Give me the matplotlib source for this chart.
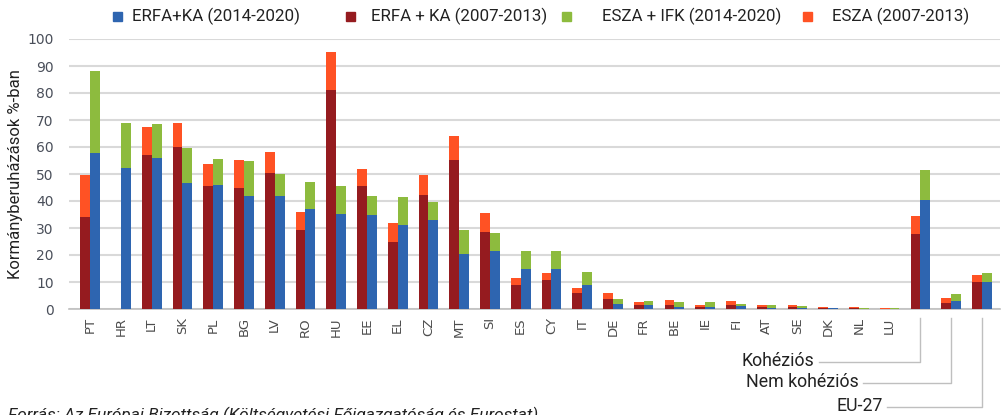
import matplotlib
matplotlib.use("Agg")
import matplotlib.pyplot as plt
import numpy as np
from matplotlib.patches import Rectangle

# --- Data ---
countries = ["PT", "HR", "LT", "SK", "PL", "BG", "LV", "RO", "HU", "EE", "EL", "CZ", "MT", "SI",
             "ES", "CY", "IT", "DE", "FR", "BE", "IE", "FI", "AT", "SE", "DK", "NL", "LU",
             "Kohéziós", "Nem kohéziós", "EU-27"]

# 2007-2013 bar (left)
erfa_ka_0713 = [34.0, 0.0, 57.0, 60.1, 45.6, 44.9, 50.5, 29.4, 81.2, 45.6, 24.9, 42.3, 55.3, 28.6,
                8.8, 10.6, 5.8, 3.6, 1.4, 1.5, 0.6, 1.6, 0.7, 0.8, 0.2, 0.2, 0.1,
                27.8, 2.1, 9.9]
esza_0713 = [15.7, 0.0, 10.5, 8.9, 8.0, 10.3, 7.5, 6.7, 14.1, 6.1, 7.1, 7.2, 8.8, 6.8,
             2.6, 2.6, 2.1, 2.4, 1.1, 1.8, 1.0, 1.4, 0.9, 0.6, 0.4, 0.4, 0.2,
             6.5, 1.9, 2.6]

# 2014-2020 bar (right)
erfa_ka_1420 = [57.8, 52.3, 55.8, 46.7, 45.8, 42.0, 42.0, 36.9, 35.3, 34.9, 31.1, 33.0, 20.5, 21.5,
                14.7, 14.8, 8.8, 1.9, 1.4, 0.9, 0.6, 1.0, 0.5, 0.5, 0.2, 0.1, 0.1,
                40.4, 3.1, 9.9]
esza_ifk_1420 = [30.3, 16.6, 12.8, 13.1, 9.8, 12.8, 7.9, 10.1, 10.4, 7.1, 10.5, 6.6, 8.9, 6.5,
                 6.8, 6.6, 5.0, 1.7, 1.4, 1.8, 1.9, 1.0, 0.9, 0.7, 0.3, 0.4, 0.4,
                 11.1, 2.3, 3.6]

labels_legend = ["ERFA+KA (2014-2020)", "ERFA + KA (2007-2013)", "ESZA + IFK (2014-2020)", "ESZA (2007-2013)"]
group_names = ["Kohéziós", "Nem kohéziós", "EU-27"]

# --- Style ---
c_blue = "#2E65B0"
c_dred = "#951B1F"
c_green = "#8DBB3E"
c_orange = "#FF5224"
grid_col = "#D9D9D9"
txt_col = "#4D4D4D"
dark = "#222222"

plt.rcParams["font.family"] = ["Roboto", "DejaVu Sans"]

W, H = 1002, 415
fig = plt.figure(figsize=(W / 100, H / 100), dpi=100)
ax = fig.add_axes([69 / W, 1 - 309 / H, (1000 - 69) / W, (309 - 39) / H])

x = np.arange(len(countries))
bw = 0.32
off = 0.16
b0 = np.array(erfa_ka_0713)
b1 = np.array(erfa_ka_1420)
ax.bar(x - off, b0, bw, color=c_dred, zorder=3)
ax.bar(x - off, esza_0713, bw, bottom=b0, color=c_orange, zorder=3)
ax.bar(x + off, b1, bw, color=c_blue, zorder=3)
ax.bar(x + off, esza_ifk_1420, bw, bottom=b1, color=c_green, zorder=3)

ax.set_xlim(-0.69, 29.59)
ax.set_ylim(0, 100)
ax.set_yticks(np.arange(0, 101, 10))
ax.yaxis.grid(True, color=grid_col, linewidth=1.5, zorder=0)
ax.set_axisbelow(True)
for s in ["top", "right", "left"]:
    ax.spines[s].set_visible(False)
ax.spines["bottom"].set_color("#BFBFBF")
ax.spines["bottom"].set_linewidth(1.2)
ax.tick_params(axis="y", length=0, pad=11, labelsize=10, labelcolor="#4A4F5A")
for t in ax.get_yticklabels():
    t.set_family(["DejaVu Sans"])

n_c = len(countries) - len(group_names)
ax.set_xticks(x)
ax.set_xticklabels(countries[:n_c] + [""] * len(group_names), rotation=90,
                   fontsize=9.5, color=txt_col, family=["DejaVu Sans"])
ax.tick_params(axis="x", length=0, pad=6)

ax.set_ylabel("Kormányberuházások %-ban", fontsize=12, color=dark, labelpad=3)

# --- Leader lines for the group bars ---
tr = ax.get_xaxis_transform()
def yfrac(py):
    return (309 - py) / 270.0

leader_y = [362, 383, 407]
text_end = [23.55, 24.98, 25.78]
for i, name in enumerate(group_names):
    xi = n_c + i
    ax.plot([text_end[i] + 0.15, xi, xi], [yfrac(leader_y[i])] * 2 + [yfrac(318)],
            transform=tr, color="#BFBFBF", lw=1.0, clip_on=False)
    ax.text(text_end[i], yfrac(leader_y[i] - 1), name, transform=tr, ha="right", va="center",
            fontsize=12.8, color=dark)

# --- Legend (drawn by hand to match the spacing) ---
legend_cols = [c_blue, c_dred, c_green, c_orange]
sq_x = [113, 346, 562, 803]
txt_x = [132, 371, 602, 832]
for col, sx, tx, lab in zip(legend_cols, sq_x, txt_x, labels_legend):
    fig.patches.append(Rectangle((sx / W, 1 - 21 / H), 9 / W, 9 / H, color=col,
                                 transform=fig.transFigure, figure=fig))
    fig.text(tx / W, 1 - 16.5 / H, lab, fontsize=12.2, color=dark, va="center", ha="left")

fig.text(8 / W, 1 - 420 / H,
         "Forrás: Az Európai Bizottság (Költségvetési Főigazgatóság és Eurostat)",
         fontsize=12.4, style="italic", color=dark, va="baseline", ha="left")

fig.savefig("out.png", dpi=100)
